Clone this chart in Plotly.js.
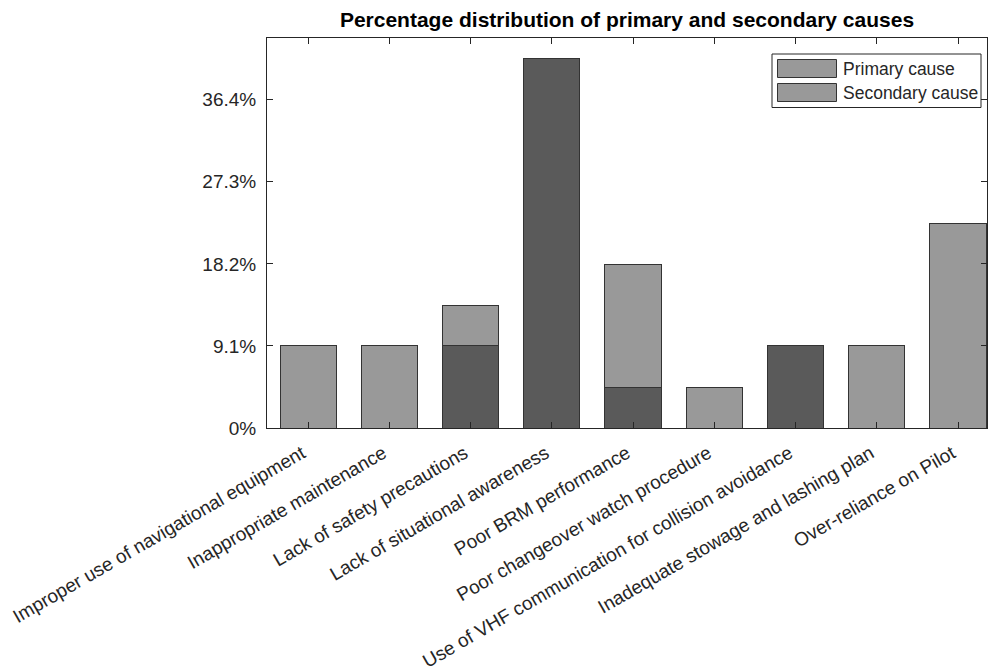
<!DOCTYPE html>
<html>
<head>
<meta charset="utf-8">
<script src="https://cdn.plot.ly/plotly-3.0.1.min.js"></script>
<style>html,body{margin:0;padding:0;background:#fff;}#chart{width:988px;height:672px;}</style>
</head>
<body>
<div id="chart"></div>
<script>
const categories = [
  "Improper use of navigational equipment",
  "Inappropriate maintenance",
  "Lack of safety precautions",
  "Lack of situational awareness",
  "Poor BRM performance",
  "Poor changeover watch procedure",
  "Use of VHF communication for collision avoidance",
  "Inadequate stowage and lashing plan",
  "Over-reliance on Pilot"
];
const primaryCause   = [0, 0, 9.1, 40.9, 4.5, 0, 9.1, 0, 0];
const secondaryCause = [9.1, 9.1, 4.5, 0, 13.6, 4.5, 0, 9.1, 22.7];
const seriesNames = ["Primary cause", "Secondary cause"];
const yTickVals = [0, 100/11, 200/11, 300/11, 400/11];
const yTickText = ["0%", "9.1%", "18.2%", "27.3%", "36.4%"];

const DARK = "#5a5a5a", LIGHT = "#999999", EDGE = "#333333", INK = "#262626";
const FONT = "Liberation Sans, Arial, Helvetica, sans-serif";

// plot area in pixels (for placing the MATLAB-style legend box)
const PL = 267, PR = 987, PT = 38, PB = 428;
const px = v => (v - PL) / (PR - PL);
const py = v => (PB - v) / (PB - PT);

const traces = [
  {type: "bar", name: seriesNames[0], x: categories, y: primaryCause,
   marker: {color: DARK, line: {color: EDGE, width: 1}}, width: 0.69, showlegend: false},
  {type: "bar", name: seriesNames[1], x: categories, y: secondaryCause,
   marker: {color: LIGHT, line: {color: EDGE, width: 1}}, width: 0.69, showlegend: false}
];

// legend: box + two swatches (both light, as in the source figure) + labels
const shapes = [
  {type: "rect", xref: "paper", yref: "paper", x0: px(772), x1: px(981), y0: py(54), y1: py(107.5),
   line: {color: INK, width: 1}, fillcolor: "#ffffff", layer: "above"}
];
const annotations = [];
seriesNames.forEach((name, i) => {
  const top = 59.5 + i * 24;
  shapes.push({type: "rect", xref: "paper", yref: "paper", x0: px(777.5), x1: px(836.5),
               y0: py(top), y1: py(top + 18), line: {color: EDGE, width: 1}, fillcolor: LIGHT, layer: "above"});
  annotations.push({xref: "paper", yref: "paper", x: px(840.5), y: py(top + 9.5), xanchor: "left", yanchor: "middle",
                    text: name, showarrow: false, font: {family: FONT, size: 17.5, color: INK}});
});

const layout = {
  width: 988, height: 672,
  margin: {l: PL, r: 988 - PR, t: PT, b: 672 - PB, pad: 0},
  paper_bgcolor: "#ffffff", plot_bgcolor: "#ffffff",
  barmode: "stack",
  font: {family: FONT, color: INK, size: 19},
  title: {text: "<b>Percentage distribution of primary and secondary causes</b>",
          font: {family: FONT, size: 21, color: "#000000"},
          x: 0.5, xref: "paper", xanchor: "center", y: 1 - 20/672, yref: "container", yanchor: "middle"},
  xaxis: {type: "category", range: [-0.505, 8.357], showline: true, linecolor: INK, linewidth: 1,
          mirror: "allticks", ticks: "inside", ticklen: 6, tickcolor: INK, tickangle: -30,
          ticklabelstandoff: 6, ticklabelshift: -6,
          tickfont: {size: 19, color: INK}, showgrid: false, zeroline: false, automargin: false},
  yaxis: {range: [0, 43.2], tickvals: yTickVals, ticktext: yTickText, showline: true, linecolor: INK,
          linewidth: 1, mirror: "allticks", ticks: "inside", ticklen: 6, tickcolor: INK,
          ticklabelstandoff: 6,
          tickfont: {size: 19, color: INK}, showgrid: false, zeroline: false, automargin: false},
  shapes: shapes,
  annotations: annotations,
  showlegend: false
};

Plotly.newPlot("chart", traces, layout, {displayModeBar: false, staticPlot: true});
</script>
</body>
</html>
